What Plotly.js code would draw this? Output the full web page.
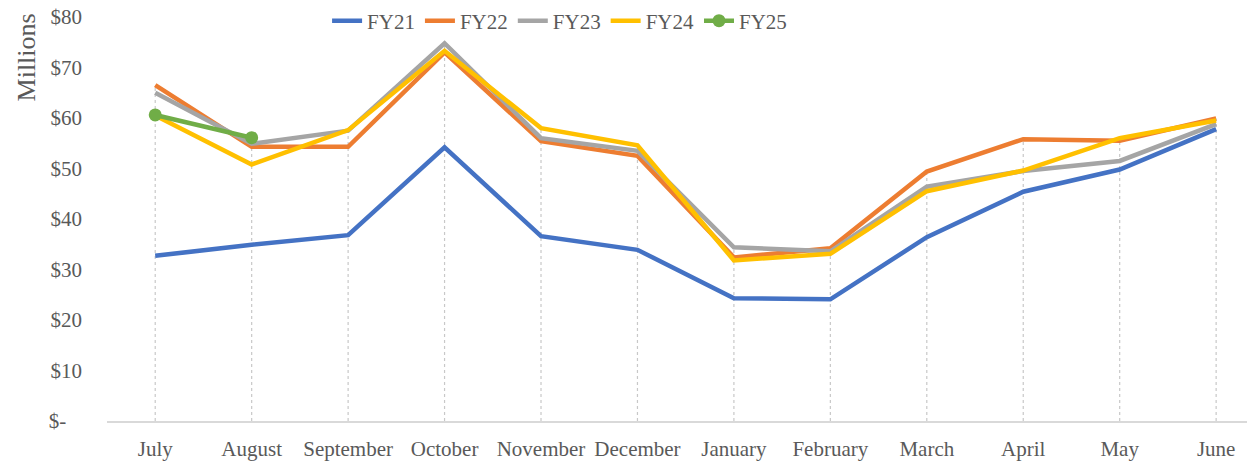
<!DOCTYPE html>
<html>
<head>
<meta charset="utf-8">
<script src="https://cdn.plot.ly/plotly-3.0.1.min.js"></script>
<style>html,body{margin:0;padding:0;background:#fff;}#chart{width:1247px;height:461px;}</style>
</head>
<body>
<div id="chart"></div>
<script>
const months = ["July","August","September","October","November","December","January","February","March","April","May","June"];
const fy21 = [32.7, 34.9, 36.8, 54.2, 36.6, 33.9, 24.3, 24.1, 36.4, 45.4, 49.8, 57.8];
const fy22 = [66.5, 54.3, 54.3, 73.0, 55.4, 52.5, 32.4, 34.2, 49.4, 55.8, 55.5, 59.9];
const fy23 = [65.0, 54.9, 57.5, 74.8, 56.0, 53.5, 34.4, 33.6, 46.4, 49.5, 51.5, 58.8];
const fy24 = [60.5, 50.8, 57.6, 73.3, 58.0, 54.6, 31.8, 33.1, 45.5, 49.6, 56.0, 59.5];
const fy25 = [60.6, 56.1];
const seriesNames = ["FY21","FY22","FY23","FY24","FY25"];
const yTickVals = [0,10,20,30,40,50,60,70,80];
const yTickText = ["$-\u00a0\u00a0\u00a0","$10","$20","$30","$40","$50","$60","$70","$80"];

const colors = ["#4472C4","#ED7D31","#A5A5A5","#FFC000","#70AD47"];
const allSeries = [fy21, fy22, fy23, fy24, fy25];
const font = "Liberation Serif, Times New Roman, serif";

const traces = allSeries.map((vals, k) => ({
  type: "scatter",
  x: months.slice(0, vals.length),
  y: vals,
  name: seriesNames[k],
  mode: k === 4 ? "lines+markers" : "lines",
  line: {color: colors[k], width: 4.5},
  marker: {color: colors[k], size: 13},
  hoverinfo: "skip"
}));

const shapes = months.map((m, i) => {
  let mx = 0;
  allSeries.forEach(s => { if (i < s.length && s[i] > mx) mx = s[i]; });
  return {type: "line", xref: "x", yref: "y", x0: i, x1: i, y0: 0, y1: mx,
    line: {color: "#C8C8C8", width: 1.2, dash: "dot"}, layer: "below"};
});

const layout = {
  width: 1247, height: 461,
  margin: {l: 107, r: 0, t: 17, b: 40},
  paper_bgcolor: "#fff", plot_bgcolor: "#fff",
  font: {family: font, color: "#595959", size: 21},
  showlegend: true,
  legend: {orientation: "h", x: 0.397, xanchor: "center", y: 0.99, yanchor: "middle",
    font: {family: font, size: 21, color: "#595959"}, itemwidth: 30, bgcolor: "rgba(0,0,0,0)"},
  xaxis: {type: "category", range: [-0.5, 11.32], showgrid: false, zeroline: false,
    showline: true, linecolor: "#D9D9D9", linewidth: 1.5, ticks: "",
    tickfont: {family: font, size: 21, color: "#595959"}, ticklabelstandoff: 8, fixedrange: true},
  yaxis: {range: [0, 80], tickvals: yTickVals, ticktext: yTickText, showgrid: false,
    zeroline: false, showline: false, ticks: "", ticklabelstandoff: 24,
    tickfont: {family: font, size: 21, color: "#595959"},
    fixedrange: true},
  annotations: [{text: "Millions", xref: "paper", yref: "paper", x: -0.071, y: 0.9,
    xanchor: "center", yanchor: "middle", textangle: -90, showarrow: false,
    font: {family: font, size: 26, color: "#595959"}}],
  shapes: shapes
};

Plotly.newPlot("chart", traces, layout, {displayModeBar: false, staticPlot: true});
</script>
</body>
</html>
